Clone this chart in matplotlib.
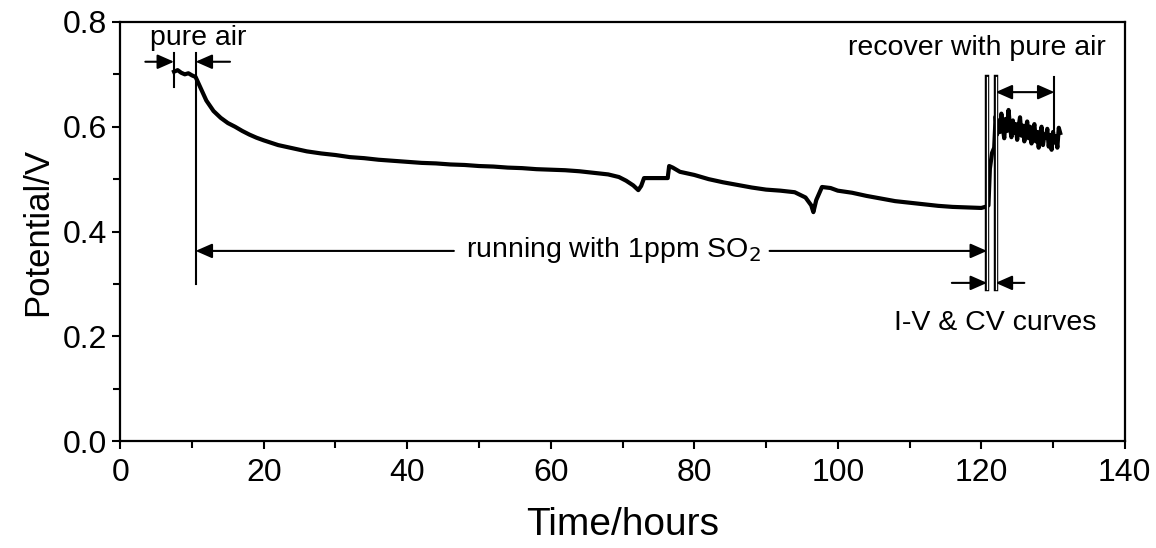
#!/usr/bin/env python3
import matplotlib
matplotlib.use('Agg')
import matplotlib.pyplot as plt
from matplotlib.ticker import MultipleLocator

plt.rc('font', **{'family': 'sans-serif', 'sans-serif': ['Liberation Sans', 'DejaVu Sans'], 'size': 20})

# potential trace (time in hours, potential in V)
time_h = [7.5, 8.0, 8.5, 9.0, 9.5, 10.0, 10.5, 11.0, 11.5, 12.0, 12.5, 13.0, 14.0, 15.0,
          16.0, 17.0, 18.0, 19.0, 20.0, 22.0, 24.0, 26.0, 28.0, 30.0, 32.0, 34.0, 36.0,
          38.0, 40.0, 42.0, 44.0, 46.0, 48.0, 50.0, 52.0, 54.0, 56.0, 58.0, 60.0, 62.0,
          64.0, 66.0, 68.0, 69.5, 70.5, 71.5, 72.2, 72.6, 73.0, 76.3, 76.5, 77.0, 78.0,
          80.0, 82.0, 84.0, 86.0, 88.0, 90.0, 92.0, 94.0, 95.5, 96.3, 96.6, 97.0, 97.8,
          99.0, 100.0, 102.0, 104.0, 106.0, 108.0, 110.0, 112.0, 114.0, 116.0, 118.0,
          120.0, 120.8, 121.0, 121.2, 121.5, 121.8, 122.0, 122.2, 122.4, 122.6, 122.8,
          123.0, 123.2, 123.4, 123.6, 123.8, 124.0, 124.2, 124.4, 124.6, 124.8, 125.0,
          125.2, 125.4, 125.6, 125.8, 126.0, 126.2, 126.4, 126.6, 126.8, 127.0, 127.2,
          127.4, 127.6, 127.8, 128.0, 128.2, 128.4, 128.6, 128.8, 129.0, 129.2, 129.4,
          129.6, 129.8, 130.0, 130.2, 130.4, 130.6, 130.8, 131.0]
potential = [0.705, 0.708, 0.703, 0.700, 0.702, 0.698, 0.695, 0.680, 0.665, 0.650, 0.640,
             0.630, 0.617, 0.607, 0.600, 0.592, 0.585, 0.579, 0.574, 0.565, 0.559, 0.553,
             0.549, 0.546, 0.542, 0.540, 0.537, 0.535, 0.533, 0.531, 0.530, 0.528, 0.527,
             0.525, 0.524, 0.522, 0.521, 0.519, 0.518, 0.517, 0.515, 0.512, 0.509, 0.504,
             0.497, 0.488, 0.479, 0.487, 0.502, 0.502, 0.525, 0.522, 0.514, 0.508, 0.500,
             0.494, 0.489, 0.484, 0.480, 0.478, 0.475, 0.465, 0.450, 0.437, 0.460, 0.485,
             0.483, 0.478, 0.474, 0.468, 0.463, 0.458, 0.455, 0.452, 0.449, 0.447, 0.446,
             0.445, 0.448, 0.450, 0.520, 0.550, 0.560, 0.620, 0.585, 0.612, 0.590, 0.625,
             0.598, 0.578, 0.615, 0.592, 0.632, 0.600, 0.580, 0.612, 0.588, 0.605, 0.575,
             0.600, 0.618, 0.583, 0.602, 0.572, 0.596, 0.610, 0.578, 0.600, 0.568, 0.592,
             0.605, 0.572, 0.590, 0.560, 0.586, 0.600, 0.565, 0.585, 0.580, 0.596,
             0.562, 0.584, 0.556, 0.590, 0.570, 0.582, 0.560, 0.598, 0.588]

# region boundaries (hours)
t_pure_start, t_so2_start = 7.5, 10.5
t_iv_start, t_iv_end, t_recover_end = 120.8, 122.0, 130.2

fig = plt.figure(figsize=(11.56, 5.48), dpi=100)
ax = fig.add_axes([0.104, 0.195, 0.869, 0.765])

ax.plot(time_h, potential, color='black', lw=3.0, solid_joinstyle='round')

arrow = dict(arrowstyle='-|>,head_length=0.5,head_width=0.22', color='black', lw=1.5,
             shrinkA=0, shrinkB=0)
arrow2 = dict(arrowstyle='<|-|>,head_length=0.5,head_width=0.22', color='black', lw=1.5,
              shrinkA=0, shrinkB=0)
fs = 20.5

# pure air
ax.plot([t_pure_start, t_pure_start], [0.676, 0.741], color='black', lw=1.5)
ax.plot([t_so2_start, t_so2_start], [0.30, 0.741], color='black', lw=1.5)
ax.annotate('', xy=(t_pure_start, 0.724), xytext=(3.5, 0.724), arrowprops=arrow)
ax.annotate('', xy=(t_so2_start, 0.724), xytext=(15.3, 0.724), arrowprops=arrow)
ax.text(10.8, 0.756, 'pure air', ha='center', va='baseline', fontsize=fs)

# running with SO2
ax.annotate('', xy=(t_so2_start, 0.363), xytext=(46.5, 0.363), arrowprops=arrow)
ax.annotate('', xy=(t_iv_start, 0.363), xytext=(90.5, 0.363), arrowprops=arrow)
ax.text(68.8, 0.365, 'running with 1ppm SO$_2$', ha='center', va='center', fontsize=fs)

# I-V & CV curves, drawn as hollow lines
for t in (t_iv_start, t_iv_end):
    ax.plot([t, t], [0.29, 0.695], color='black', lw=3.2)
    ax.plot([t, t], [0.29, 0.695], color='white', lw=0.9)
ax.annotate('', xy=(t_iv_start, 0.302), xytext=(115.9, 0.302), arrowprops=arrow)
ax.annotate('', xy=(t_iv_end, 0.302), xytext=(126.0, 0.302), arrowprops=arrow)
ax.text(122.0, 0.212, 'I-V & CV curves', ha='center', va='baseline', fontsize=fs)

# recover with pure air
ax.plot([t_recover_end, t_recover_end], [0.58, 0.695], color='black', lw=1.5)
ax.annotate('', xy=(t_recover_end, 0.666), xytext=(t_iv_end, 0.666), arrowprops=arrow2)
ax.text(119.4, 0.737, 'recover with pure air', ha='center', va='baseline', fontsize=fs)

ax.set_xlim(0, 140)
ax.set_ylim(0.0, 0.8)
ax.xaxis.set_major_locator(MultipleLocator(20))
ax.xaxis.set_minor_locator(MultipleLocator(10))
ax.yaxis.set_major_locator(MultipleLocator(0.2))
ax.yaxis.set_minor_locator(MultipleLocator(0.1))
ax.yaxis.set_major_formatter(plt.FormatStrFormatter('%.1f'))
ax.tick_params(which='both', direction='out', top=False, right=False, width=1.5,
               labelsize=23)
ax.tick_params(which='major', length=6)
ax.tick_params(which='minor', length=5)
ax.tick_params(axis='x', pad=6)
for s in ax.spines.values():
    s.set_linewidth(1.6)

ax.set_xlabel('Time/hours', fontsize=28, labelpad=14)
ax.set_ylabel('Potential/V', fontsize=25, labelpad=6)

fig.savefig('out.png', dpi=100)
